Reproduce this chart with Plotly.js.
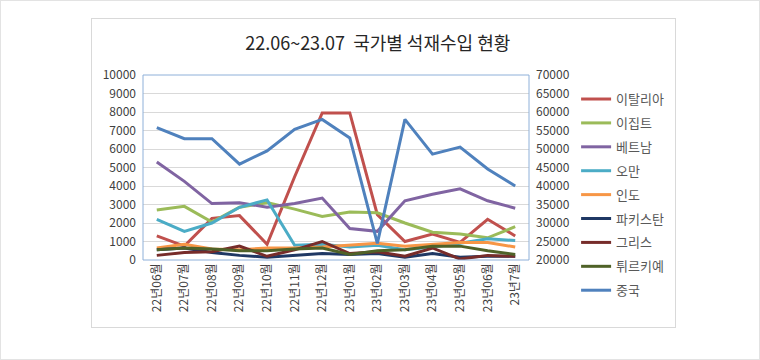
<!DOCTYPE html>
<html>
<head>
<meta charset="utf-8">
<script src="https://cdn.plot.ly/plotly-3.0.1.min.js"></script>
<style>
  html, body { margin: 0; padding: 0; background: #fff; }
  #wrap { position: relative; width: 760px; height: 360px; overflow: hidden; }
  #chart { position: absolute; left: 0; top: 0; width: 760px; height: 360px; }
  .frame { position: absolute; pointer-events: none; box-sizing: border-box; }
</style>
</head>
<body>
<div id="wrap">
  <div id="chart"></div>
  <div class="frame" style="left:0;top:0;width:760px;height:360px;border:1px solid #e3e3e3;"></div>
  <div class="frame" style="left:91px;top:18px;width:585px;height:310px;border:1px solid #d9d9d9;"></div>
</div>
<script>
const categories = ['22년06월','22년07월','22년08월','22년09월','22년10월','22년11월','22년12월',
                    '23년01월','23년02월','23년03월','23년04월','23년05월','23년06월','23년7월'];

const italy    = [1300, 750, 2250, 2400, 850, 4500, 7950, 7950, 2450, 1000, 1400, 950, 2200, 1300];
const egypt    = [2700, 2900, 2050, 2850, 3100, 2750, 2350, 2600, 2550, 2000, 1500, 1400, 1200, 1800];
const vietnam  = [5300, 4250, 3050, 3100, 2850, 3050, 3350, 1700, 1550, 3200, 3550, 3850, 3200, 2800];
const oman     = [2200, 1550, 2000, 2850, 3250, 800, 850, 700, 800, 550, 700, 900, 1150, 1050];
const india    = [650, 850, 600, 550, 650, 650, 700, 800, 900, 750, 850, 950, 950, 700];
const pakistan = [550, 650, 400, 250, 150, 250, 350, 300, 350, 150, 350, 150, 200, 200];
const greece   = [250, 400, 450, 750, 200, 550, 1000, 350, 450, 200, 650, 50, 250, 200];
const turkiye  = [550, 650, 600, 500, 500, 600, 650, 300, 500, 550, 750, 750, 500, 300];
const china    = [55750, 52800, 52800, 45900, 49500, 55300, 58000, 53000, 24500, 58000, 48600, 50500, 44600, 40000];

const seriesNames = ['이탈리아','이집트','베트남','오만','인도','파키스탄','그리스','튀르키예','중국'];
const seriesData  = [italy, egypt, vietnam, oman, india, pakistan, greece, turkiye, china];
const seriesColors = ['#C0504D','#9BBB59','#8064A2','#4BACC6','#F79646','#1F3864','#772C2A','#4F6228','#4F81BD'];

const traces = seriesNames.map((n, i) => ({
  x: categories,
  y: seriesData[i],
  name: n,
  type: 'scatter',
  mode: 'lines',
  line: { color: seriesColors[i], width: 3 },
  yaxis: n === '중국' ? 'y2' : 'y',
  legendgroup: 'g' + i
}));

const font = '"Noto Sans CJK KR", "Malgun Gothic", sans-serif';

const layout = {
  width: 760, height: 360,
  margin: { l: 143, r: 231, t: 75, b: 100 },
  paper_bgcolor: 'rgba(0,0,0,0)',
  plot_bgcolor: '#fff',
  showlegend: true,
  hovermode: false,
  font: { family: font, color: '#404040', size: 12 },
  title: {
    text: '22.06~23.07  국가별 석재수입 현황',
    font: { family: font, size: 18, color: '#262626' },
    x: 0.497, xanchor: 'center', y: 0.878, yanchor: 'middle'
  },
  xaxis: {
    type: 'category',
    tickangle: -90,
    tickfont: { family: font, size: 12, color: '#404040' },
    showgrid: false, zeroline: false,
    showline: false, ticks: '',
    range: [-0.5, 13.5]
  },
  yaxis: {
    range: [0, 10000], dtick: 1000, tickformat: 'd',
    showgrid: true, gridcolor: '#d9d9d9', gridwidth: 1,
    zeroline: false, showline: false, ticks: '',
    tickfont: { family: font, size: 12, color: '#404040' },
    ticklabelstandoff: 6
  },
  yaxis2: {
    overlaying: 'y', side: 'right',
    range: [20000, 70000], dtick: 5000, tickformat: 'd',
    showgrid: false, zeroline: false, showline: false, ticks: '',
    tickfont: { family: font, size: 12, color: '#404040' },
    ticklabelstandoff: 6
  },
  legend: {
    x: 0.122, xref: 'paper', xanchor: 'left',
    y: 0.951, yanchor: 'top',
    maxheight: 320,
    font: { family: font, size: 13, color: '#595959' },
    tracegroupgap: 4,
    itemwidth: 30,
    bgcolor: 'rgba(0,0,0,0)'
  },
  shapes: [{
    type: 'rect', xref: 'paper', yref: 'paper', x0: 0, x1: 1, y0: 0, y1: 1,
    line: { color: '#8eb0d9', width: 1 }, fillcolor: 'rgba(0,0,0,0)', layer: 'above'
  }]
};
layout.legend.x = 1.122;

Plotly.newPlot('chart', traces, layout, { displayModeBar: false, staticPlot: true });
</script>
</body>
</html>
